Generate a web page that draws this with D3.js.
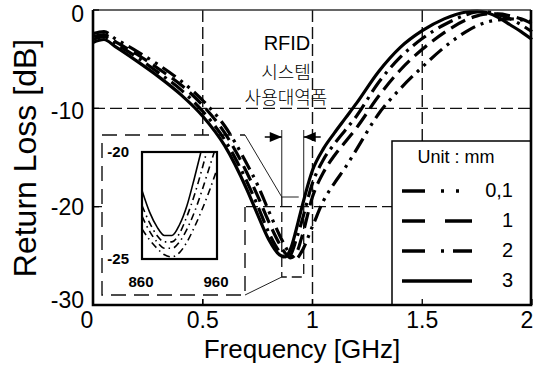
<!DOCTYPE html>
<html>
<head>
<meta charset="utf-8">
<script src="https://cdn.jsdelivr.net/npm/d3@7"></script>
<style>
body{margin:0;background:#fff}
text{font-family:"Liberation Sans",Arial,sans-serif;fill:#000}
.kr{font-family:"Noto Sans CJK KR",sans-serif}
</style>
</head>
<body>
<script>
var width=544, height=378

// frequency grid [GHz]
var freqs=[0,0.05,0.1,0.2,0.3,0.4,0.5,0.6,0.7,0.75,0.8,0.85,0.875,0.9,0.925,0.95,1.0,1.05,1.1,1.15,1.2,1.3,1.4,1.5,1.6,1.7,1.75,1.8,1.85,1.9,1.95,2.0]
// return loss [dB] per gap size
var loss_3=[-3.3,-3.0,-3.7,-5.2,-6.8,-8.6,-10.8,-13.8,-18.2,-20.8,-23.3,-24.9,-25.1,-24.3,-22.4,-20.2,-16.3,-14.1,-12.5,-11.0,-9.5,-6.3,-3.8,-2.1,-0.9,-0.2,-0.1,-0.3,-0.8,-1.5,-2.2,-3.0]
var loss_2=[-3.0,-2.7,-3.4,-4.8,-6.4,-8.1,-10.3,-13.2,-17.4,-19.9,-22.6,-24.6,-25.2,-24.9,-23.4,-21.6,-17.6,-15.2,-13.6,-12.2,-10.8,-7.4,-4.8,-2.9,-1.5,-0.5,-0.2,-0.2,-0.5,-0.9,-1.5,-2.2]
var loss_1=[-2.7,-2.5,-3.2,-4.5,-6.0,-7.6,-9.7,-12.5,-16.5,-18.9,-21.5,-23.8,-24.7,-25.2,-24.8,-23.2,-19.0,-16.5,-14.8,-13.4,-12.0,-8.8,-6.1,-4.0,-2.3,-1.0,-0.6,-0.4,-0.4,-0.6,-0.9,-1.4]
var loss_01=[-2.4,-2.2,-2.9,-4.2,-5.6,-7.2,-9.2,-11.8,-15.6,-17.8,-20.4,-22.9,-24.0,-24.9,-25.3,-24.6,-22.0,-19.4,-17.6,-16.0,-14.2,-10.6,-8.0,-5.8,-3.8,-2.2,-1.6,-1.2,-1.0,-0.9,-1.0,-1.2]

var seriesNames=["0,1","1","2","3"]
var seriesValues=[loss_01,loss_1,loss_2,loss_3]
var seriesDash=["16,6,3,6,3,6","16,7","16,6,3,6",null]
var legendDash=["23,16,3,12,3,100","23,20,27","23,16,3,9,19",null]

var xTicks=[0,0.5,1,1.5,2]
var xTickLabels=["0","0.5","1","1.5","2"]
var yTicks=[0,-10,-20,-30]
var yTickLabels=["0","-10","-20","-30"]
var xGrid=[0.5,1,1.5]
var yGrid=[-10,-20]

// RFID band [GHz]
var rfidBand=[0.86,0.96]
var rfidText=["RFID","시스템","사용대역폭"]

// inset (zoom on the RFID band) [MHz]
var insetFreqs=[860,870,880,890,900,910,920,930,940,950,960]
var inset_3=[-21.8,-22.8,-23.5,-23.9,-23.9,-23.4,-22.5,-21.2,-19.8,-18.3,-16.8]
var inset_2=[-22.5,-23.3,-23.9,-24.2,-24.2,-23.8,-23.0,-22.0,-20.8,-19.5,-18.2]
var inset_1=[-23.0,-23.7,-24.2,-24.5,-24.5,-24.2,-23.6,-22.8,-21.8,-20.7,-19.6]
var inset_01=[-23.6,-24.1,-24.5,-24.8,-24.9,-24.7,-24.2,-23.5,-22.7,-21.8,-20.8]
var insetValues=[inset_01,inset_1,inset_2,inset_3]
var insetXTicks=[860,960]
var insetYTicks=[-20,-25]

var svg=d3.select("body").append("svg")
	.attr("width",width)
	.attr("height",height)

var plot={left:93,right:531,top:10,bottom:305}

var xs=d3.scaleLinear().domain([0,2]).range([93,532])
var ys=d3.scaleLinear().domain([-30,0]).range([plot.bottom,plot.top])

// grid
svg.append("g").selectAll("line")
	.data(xGrid).enter().append("line")
	.attr("x1",function(d){return xs(d)}).attr("x2",function(d){return xs(d)})
	.attr("y1",plot.top).attr("y2",plot.bottom)
	.attr("stroke","#111").attr("stroke-width",1.4).attr("stroke-dasharray","12,5")
svg.append("g").selectAll("line")
	.data(yGrid).enter().append("line")
	.attr("x1",plot.left).attr("x2",plot.right)
	.attr("y1",function(d){return ys(d)}).attr("y2",function(d){return ys(d)})
	.attr("stroke","#111").attr("stroke-width",1.4).attr("stroke-dasharray","12,5")

// inset
var inset={left:102,right:245,top:135,bottom:295}
svg.append("rect")
	.attr("x",inset.left).attr("y",inset.top)
	.attr("width",inset.right-inset.left).attr("height",inset.bottom-inset.top)
	.attr("fill","#fff")
svg.append("path")
	.attr("d","M"+inset.right+",207V"+inset.bottom+"H"+inset.left+"V"+inset.top+"H"+inset.right)
	.attr("fill","none").attr("stroke","#111").attr("stroke-width",1.4).attr("stroke-dasharray","15,8")

var ix=d3.scaleLinear().domain([860,960]).range([142,217])
var iy=d3.scaleLinear().domain([-25,-20]).range([259,152])

svg.append("clipPath").attr("id","insetclip")
	.append("rect").attr("x",142).attr("y",152).attr("width",75).attr("height",107)
svg.append("rect").attr("x",142).attr("y",152).attr("width",75).attr("height",107)
	.attr("fill","#fff")
var iline=d3.line()
	.x(function(d,i){return ix(insetFreqs[i])})
	.y(function(d){return iy(d)})
	.curve(d3.curveMonotoneX)
svg.append("g").attr("clip-path","url(#insetclip)")
	.selectAll("path").data(insetValues).enter().append("path")
	.attr("d",function(d){return iline(d)})
	.attr("fill","none").attr("stroke","#000").attr("stroke-width",1.6)
	.attr("stroke-dasharray",function(d,i){return seriesDash[i]?"7,4,1.5,4":null})
svg.append("rect").attr("x",142).attr("y",152).attr("width",75).attr("height",107)
	.attr("fill","none").attr("stroke","#000").attr("stroke-width",2.2)

svg.append("g").selectAll("text").data(insetYTicks).enter().append("text")
	.attr("x",129).attr("y",function(d){return iy(d)+5})
	.attr("text-anchor","end").attr("font-size",15).attr("font-weight","bold")
	.text(function(d){return d})
svg.append("g").selectAll("text").data(insetXTicks).enter().append("text")
	.attr("x",function(d){return ix(d)-1}).attr("y",287)
	.attr("text-anchor","middle").attr("font-size",15).attr("font-weight","bold")
	.text(function(d){return d})

// RFID band box and connectors
var bx0=xs(rfidBand[0]), bx1=xs(rfidBand[1])
var boxTop=197, boxBottom=277
svg.append("path")
	.attr("d","M"+bx0+","+boxTop+"V"+boxBottom+"H"+bx1+"V"+boxTop)
	.attr("fill","none").attr("stroke","#111").attr("stroke-width",1.3).attr("stroke-dasharray","10,5")
svg.append("path")
	.attr("d","M"+inset.right+","+inset.top+"L"+bx0+","+boxTop+"H"+(bx1-5)
		+"M"+inset.right+","+inset.bottom+"L"+bx0+","+boxBottom)
	.attr("fill","none").attr("stroke","#222").attr("stroke-width",1)
svg.append("g").selectAll("line").data(rfidBand).enter().append("line")
	.attr("x1",function(d){return xs(d)}).attr("x2",function(d){return xs(d)})
	.attr("y1",130).attr("y2",boxTop)
	.attr("stroke","#222").attr("stroke-width",1)

// band arrows
svg.append("line").attr("x1",bx0-17).attr("x2",bx0).attr("y1",137).attr("y2",137)
	.attr("stroke","#000").attr("stroke-width",1.5)
svg.append("path").attr("d","M"+bx0+",137l-12,-5v10z").attr("fill","#000")
svg.append("line").attr("x1",bx1+17).attr("x2",bx1).attr("y1",137).attr("y2",137)
	.attr("stroke","#000").attr("stroke-width",1.5)
svg.append("path").attr("d","M"+bx1+",137l12,-5v10z").attr("fill","#000")

// curves
var line=d3.line()
	.x(function(d,i){return xs(freqs[i])})
	.y(function(d){return ys(d)})
	.curve(d3.curveMonotoneX)
svg.append("g").selectAll("path").data(seriesValues).enter().append("path")
	.attr("d",function(d){return line(d)})
	.attr("fill","none").attr("stroke","#000").attr("stroke-width",3.2)
	.attr("stroke-dasharray",function(d,i){return seriesDash[i]})

// legend
var legend={left:392,top:141}
svg.append("rect")
	.attr("x",legend.left).attr("y",legend.top)
	.attr("width",plot.right-legend.left).attr("height",plot.bottom-legend.top)
	.attr("fill","#fff").attr("stroke","#000").attr("stroke-width",1.5)
svg.append("text").attr("x",456).attr("y",163).attr("text-anchor","middle")
	.attr("font-size",18).text("Unit : mm")
var rows=svg.append("g").selectAll("g").data(seriesNames).enter().append("g")
	.attr("transform",function(d,i){return "translate(0,"+(191+i*30)+")"})
rows.append("line").attr("x1",402).attr("x2",472).attr("y1",0).attr("y2",0)
	.attr("stroke","#000").attr("stroke-width",3.5)
	.attr("stroke-dasharray",function(d,i){return legendDash[i]})
rows.append("text").attr("x",513).attr("y",6).attr("text-anchor","end")
	.attr("font-size",20).text(function(d){return d})

// frame
svg.append("line").attr("x1",plot.left).attr("x2",plot.right).attr("y1",plot.top).attr("y2",plot.top)
	.attr("stroke","#333").attr("stroke-width",1.3)
svg.append("path")
	.attr("d","M"+plot.left+","+plot.top+"V"+plot.bottom+"H"+plot.right+"V"+plot.top)
	.attr("fill","none").attr("stroke","#000").attr("stroke-width",2.6)

// ticks
svg.append("g").selectAll("line").data(yTicks).enter().append("line")
	.attr("x1",plot.left).attr("x2",plot.left+6)
	.attr("y1",function(d){return ys(d)}).attr("y2",function(d){return ys(d)})
	.attr("stroke","#000").attr("stroke-width",1.3)
svg.append("g").selectAll("line").data(xTicks).enter().append("line")
	.attr("x1",function(d){return xs(d)}).attr("x2",function(d){return xs(d)})
	.attr("y1",plot.bottom).attr("y2",plot.bottom-6)
	.attr("stroke","#000").attr("stroke-width",1.3)

var yLabelShift=[12,11,8,3]
svg.append("g").selectAll("text").data(yTicks).enter().append("text")
	.attr("x",84).attr("y",function(d,i){return ys(d)+yLabelShift[i]})
	.attr("text-anchor","end").attr("font-size",23)
	.text(function(d,i){return yTickLabels[i]})
svg.append("g").selectAll("text").data(xTicks).enter().append("text")
	.attr("x",function(d,i){return i==0?87:Math.min(xs(d),527)}).attr("y",328)
	.attr("text-anchor","middle").attr("font-size",23)
	.text(function(d,i){return xTickLabels[i]})

// axis titles
svg.append("text").attr("x",302).attr("y",358).attr("text-anchor","middle")
	.attr("font-size",26).text("Frequency [GHz]")
svg.append("text").attr("transform","translate(36,158) rotate(-90)")
	.attr("text-anchor","middle").attr("font-size",32).text("Return Loss [dB]")

// band label
svg.append("text").attr("x",287).attr("y",50).attr("text-anchor","middle")
	.attr("font-size",20).text(rfidText[0])
svg.append("g").attr("transform","rotate(0.01,286,90)")
	.selectAll("text").data(rfidText.slice(1)).enter().append("text")
	.attr("class","kr").attr("x",286).attr("y",function(d,i){return 79+i*25})
	.attr("text-anchor","middle").attr("font-size",18).attr("font-weight",300)
	.text(function(d){return d})
</script>
</body>
</html>
